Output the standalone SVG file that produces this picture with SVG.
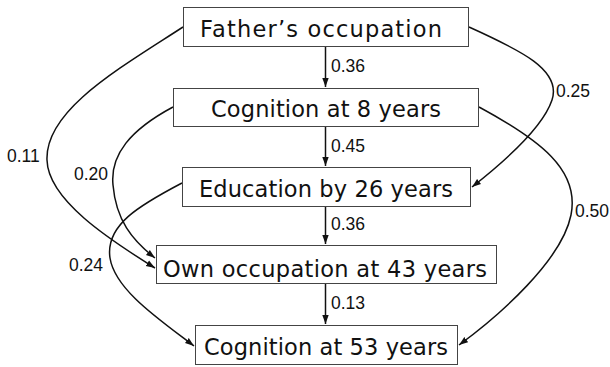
<svg xmlns="http://www.w3.org/2000/svg" width="610" height="367" viewBox="0 0 610 367">
<style>
.box{fill:#fff;stroke:#444;stroke-width:1}
.t{font-family:"DejaVu Sans","Noto Sans CJK JP",sans-serif;font-size:22.5px;fill:#111}
.lbl{font-family:"Liberation Sans",Arial,sans-serif;font-size:17.5px;fill:#111}
.edge{fill:none;stroke:#111;stroke-width:1.5;marker-end:url(#ah)}
</style>
<defs>
<marker id="ah" markerUnits="userSpaceOnUse" markerWidth="10" markerHeight="8" refX="9" refY="4" orient="auto">
<path d="M0,0.8 L9,4 L0,7.2 Z" fill="#111"/>
</marker>
</defs>
<rect width="610" height="367" fill="#fff"/>
<g id="connectors">
<path class="edge" d="M325.5,47 V87"/>
<path class="edge" d="M325.5,127 V166"/>
<path class="edge" d="M325.5,207 V244"/>
<path class="edge" d="M325.5,284 V324"/>
<path class="edge" d="M183,27 C120,68 45,110 47,160 C48,200 110,240 155,268"/>
<path class="edge" d="M173,107 C130,130 110,155 113,185 C116,220 132,240 155,258"/>
<path class="edge" d="M182,183 C140,205 105,225 110,258 C115,290 160,320 194,346"/>
<path class="edge" d="M469,27 C520,50 562,70 552,100 C542,130 500,165 472,187"/>
<path class="edge" d="M479,107 C540,140 580,170 571,215 C562,260 500,315 459,345"/>
</g>
<g id="edge-labels">
<text class="lbl" x="331" y="72">0.36</text>
<text class="lbl" x="331" y="152">0.45</text>
<text class="lbl" x="331" y="230">0.36</text>
<text class="lbl" x="331" y="309">0.13</text>
<text class="lbl" x="556" y="97">0.25</text>
<text class="lbl" x="575" y="217">0.50</text>
<text class="lbl" x="7" y="162">0.11</text>
<text class="lbl" x="74" y="180">0.20</text>
<text class="lbl" x="69" y="271">0.24</text>
</g>
<g id="father">
<rect class="box" x="183.5" y="7.5" width="285" height="39"/>
<text class="t" x="200" y="37" textLength="242" lengthAdjust="spacing">Father’s occupation</text>
</g>
<g id="cog8">
<rect class="box" x="173.5" y="88.5" width="305" height="38"/>
<text class="t" x="211" y="117" textLength="230" lengthAdjust="spacing">Cognition at 8 years</text>
</g>
<g id="edu26">
<rect class="box" x="182.5" y="167.5" width="288" height="39"/>
<text class="t" x="199" y="197" textLength="254" lengthAdjust="spacing">Education by 26 years</text>
</g>
<g id="occ43">
<rect class="box" x="156.5" y="245.5" width="340" height="38"/>
<text class="t" x="163" y="277" textLength="324" lengthAdjust="spacing">Own occupation at 43 years</text>
</g>
<g id="cog53">
<rect class="box" x="195.5" y="325.5" width="262" height="39"/>
<text class="t" x="204" y="355" textLength="244" lengthAdjust="spacing">Cognition at 53 years</text>
</g>
</svg>
